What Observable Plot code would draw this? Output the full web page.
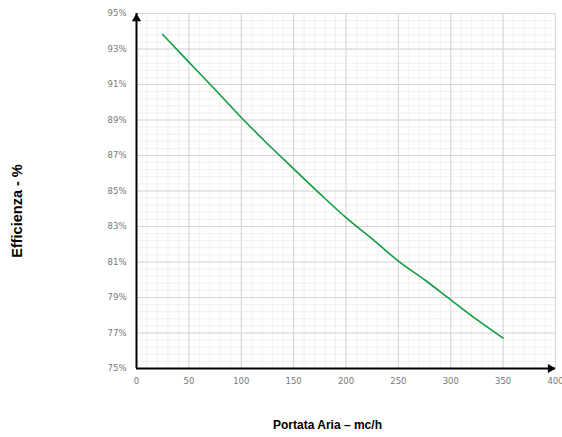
<!DOCTYPE html>
<html>
<head>
<meta charset="utf-8">
<script src="https://cdn.jsdelivr.net/npm/d3@7"></script>
<script src="https://cdn.jsdelivr.net/npm/@observablehq/plot@0.6"></script>
<style>
  html, body { margin: 0; padding: 0; background: #fff; }
  #chart svg { display: block; }
</style>
</head>
<body>
<div id="chart"></div>
<script>
// Data
const portata = [25, 50, 75, 100, 125, 150, 175, 200, 225, 250, 275, 300, 325, 350];
const efficienza = [93.82, 92.26, 90.72, 89.14, 87.66, 86.25, 84.85, 83.5, 82.3, 81.05, 80.0, 78.87, 77.75, 76.71];

const xTicks = [0, 50, 100, 150, 200, 250, 300, 350, 400];
const yTicks = [75, 77, 79, 81, 83, 85, 87, 89, 91, 93, 95];
const xMinor = d3.range(0, 401, 10);
const yMinor = d3.range(75, 95.001, 0.4);
const xDomain = [0, 400];
const yDomain = [75, 95];
const xLabel = "Portata Aria – mc/h";
const yLabel = "Efficienza - %";

const data = portata.map((x, i) => ({x, y: efficienza[i]}));

const chart = Plot.plot({
  width: 562,
  height: 437,
  marginLeft: 136,
  marginRight: 7,
  marginTop: 13,
  marginBottom: 69,
  style: {fontFamily: "DejaVu Sans", background: "#fff"},
  x: {domain: xDomain},
  y: {domain: yDomain},
  marks: [
    Plot.ruleX(xMinor, {x: d => d, y1: yDomain[0], y2: yDomain[1], stroke: "#f0f0f0", strokeWidth: 1}),
    Plot.ruleY(yMinor, {y: d => d, x1: xDomain[0], x2: xDomain[1], stroke: "#f0f0f0", strokeWidth: 1}),
    Plot.ruleX(xTicks, {x: d => d, y1: yDomain[0], y2: yDomain[1], stroke: "#d6d6d6", strokeWidth: 1}),
    Plot.ruleY(yTicks, {y: d => d, x1: xDomain[0], x2: xDomain[1], stroke: "#d6d6d6", strokeWidth: 1}),
    Plot.axisX({ticks: xTicks, tickSize: 0, tickPadding: 9, fontSize: 8.5, color: "#777", label: null}),
    Plot.axisY({ticks: yTicks, tickSize: 0, tickPadding: 10, fontSize: 8.5, color: "#777", label: null, tickFormat: d => d + "%"}),
    Plot.line(data, {x: "x", y: "y", stroke: "#119c40", strokeWidth: 1.6, curve: "monotone-x"}),
    Plot.ruleX([xDomain[0]], {x: d => d, y1: yDomain[0], y2: yDomain[1], stroke: "#000", strokeWidth: 2}),
    Plot.ruleY([yDomain[0]], {y: d => d, x1: xDomain[0], x2: xDomain[1], stroke: "#000", strokeWidth: 2}),
    Plot.dot([{x: xDomain[0], y: yDomain[1]}], {x: "x", y: "y", symbol: "triangle", r: 3.4, fill: "#000", stroke: "none", dy: 5}),
    Plot.dot([{x: xDomain[1], y: yDomain[0]}], {x: "x", y: "y", symbol: "triangle", r: 3.4, fill: "#000", stroke: "none", rotate: 90, dx: -5}),
    Plot.text([yLabel], {frameAnchor: "left", text: d => d, textAnchor: "middle", lineAnchor: "middle", dx: -119, dy: 20, rotate: -90, fontWeight: "bold", fontSize: 14.5, fontFamily: "Liberation Sans, Arial, sans-serif", fill: "#000"}),
    Plot.text([xLabel], {frameAnchor: "bottom", text: d => d, textAnchor: "middle", lineAnchor: "middle", dx: -18.5, dy: 57, fontWeight: "bold", fontSize: 12, fontFamily: "Liberation Sans, Arial, sans-serif", fill: "#000"})
  ]
});
document.getElementById("chart").appendChild(chart);
</script>
</body>
</html>
